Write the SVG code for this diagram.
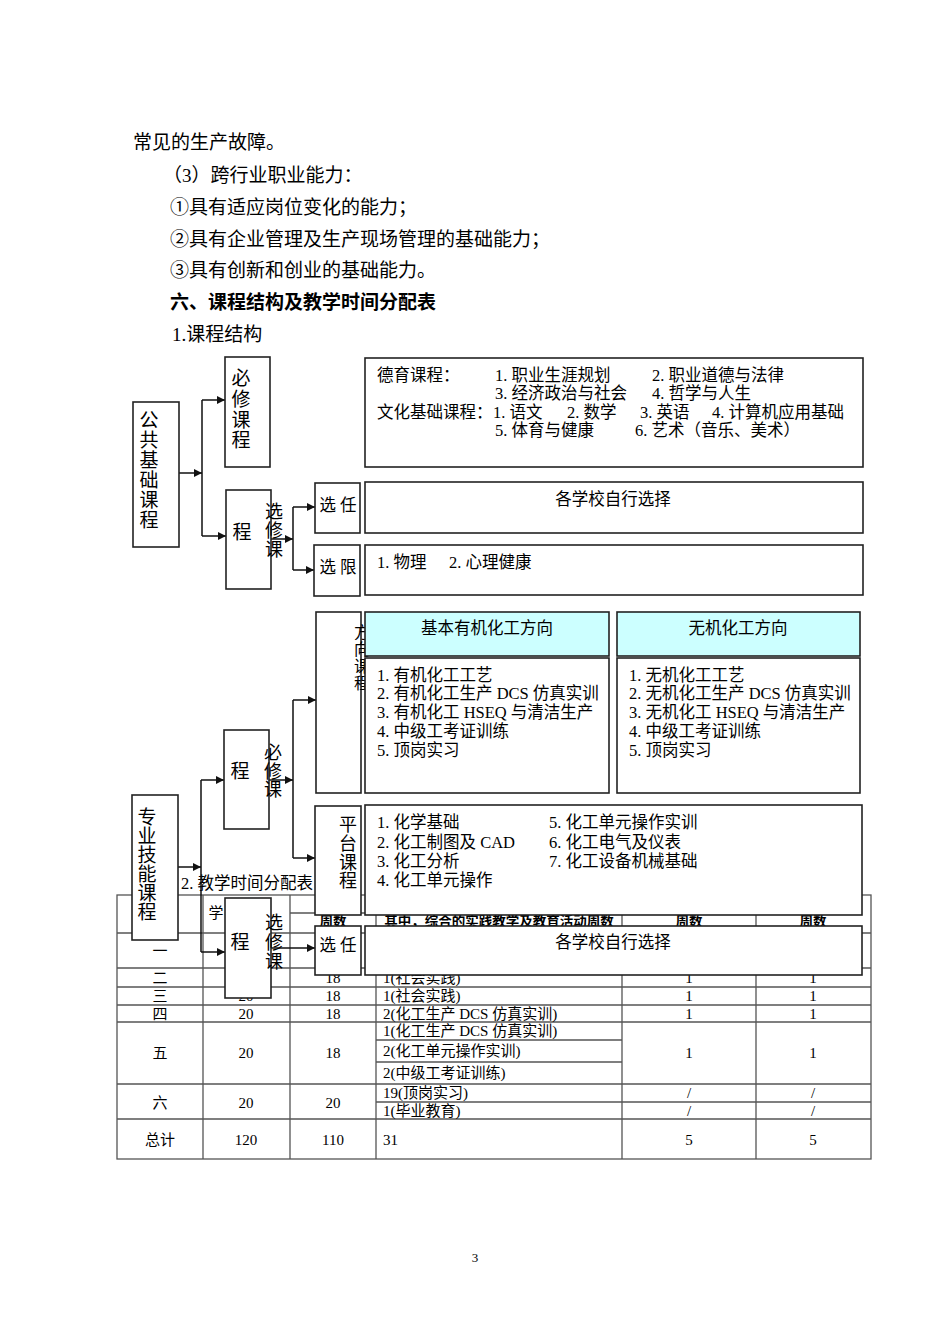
<svg xmlns="http://www.w3.org/2000/svg" width="950" height="1344" viewBox="0 0 950 1344">
<style>
text { font-family: "Liberation Serif", "Noto Sans CJK SC", serif; fill:#000; dominant-baseline: central; }
.p { font-size:19px; }
.h { font-size:19px; font-weight:bold; }
.d { font-size:16.5px; }
.dc { font-size:16.5px; text-anchor:middle; }
.v { font-size:19px; text-anchor:middle; }
.vs { font-size:18px; text-anchor:middle; }
.vx { font-size:16px; text-anchor:middle; }
.tb { font-size:15px; }
.tc { font-size:15px; text-anchor:middle; }
.th { font-size:13.5px; font-weight:bold; text-anchor:middle; }
.pg { font-size:13px; text-anchor:middle; }
.box { fill:#fff; stroke:#222; stroke-width:1.6; }
.cyan { fill:#ccffff; stroke:#222; stroke-width:1.6; }
.conn { fill:none; stroke:#111; stroke-width:1.5; }
.grid { fill:none; stroke:#555; stroke-width:1.3; }
</style>
<defs>
<marker id="arr" viewBox="0 0 10 10" refX="10" refY="5" markerWidth="9" markerHeight="8" markerUnits="userSpaceOnUse" orient="auto">
<path d="M0,0 L10,5 L0,10 z" fill="#111"/>
</marker>
</defs>
<rect width="950" height="1344" fill="#fff"/>

<g id="page-text">
<text class="p" x="133" y="142">常见的生产故障。</text>
<text class="p" x="163" y="175">（3）跨行业职业能力：</text>
<text class="p" x="170" y="207">①具有适应岗位变化的能力；</text>
<text class="p" x="170" y="239">②具有企业管理及生产现场管理的基础能力；</text>
<text class="p" x="170" y="270">③具有创新和创业的基础能力。</text>
<text class="h" x="170" y="302">六、课程结构及教学时间分配表</text>
<text class="p" x="172" y="334">1.课程结构</text>
<text class="d" x="181" y="883">2. 教学时间分配表</text>
<text class="pg" x="475" y="1257">3</text>
</g>

<g id="table">
<rect class="grid" x="117" y="895" width="754" height="264"/>
<path class="grid" d="M203,895V1159 M290,895V1159 M376,895V1159 M622,895V1159 M756,895V1159"/>
<path class="grid" d="M290,913H756 M117,933H871 M117,968H871 M117,987H871 M117,1005H871 M117,1022H871 M376,1040H622 M376,1062H622 M117,1084H871 M376,1102H871 M117,1119H871"/>
<text class="tc" x="216" y="913">学</text>
<text class="th" x="333" y="921">周数</text>
<text class="th" x="499" y="921">其中，综合的实践教学及教育活动周数</text>
<text class="th" x="689" y="921">周数</text>
<text class="th" x="813" y="921">周数</text>
<text class="tc" x="160" y="951">一</text>
<text class="tc" x="160" y="978">二</text>
<text class="tc" x="333" y="978">18</text>
<text class="tb" x="383" y="978">1(社会实践)</text>
<text class="tc" x="689" y="978">1</text>
<text class="tc" x="813" y="978">1</text>
<text class="tc" x="160" y="996">三</text>
<text class="tc" x="246" y="996">20</text>
<text class="tc" x="333" y="996">18</text>
<text class="tb" x="383" y="996">1(社会实践)</text>
<text class="tc" x="689" y="996">1</text>
<text class="tc" x="813" y="996">1</text>
<text class="tc" x="160" y="1014">四</text>
<text class="tc" x="246" y="1014">20</text>
<text class="tc" x="333" y="1014">18</text>
<text class="tb" x="383" y="1014">2(化工生产 DCS 仿真实训)</text>
<text class="tc" x="689" y="1014">1</text>
<text class="tc" x="813" y="1014">1</text>
<text class="tc" x="160" y="1053">五</text>
<text class="tc" x="246" y="1053">20</text>
<text class="tc" x="333" y="1053">18</text>
<text class="tb" x="383" y="1031">1(化工生产 DCS 仿真实训)</text>
<text class="tb" x="383" y="1051">2(化工单元操作实训)</text>
<text class="tb" x="383" y="1073">2(中级工考证训练)</text>
<text class="tc" x="689" y="1053">1</text>
<text class="tc" x="813" y="1053">1</text>
<text class="tc" x="160" y="1103">六</text>
<text class="tc" x="246" y="1103">20</text>
<text class="tc" x="333" y="1103">20</text>
<text class="tb" x="383" y="1093">19(顶岗实习)</text>
<text class="tb" x="383" y="1111">1(毕业教育)</text>
<text class="tc" x="689" y="1093">/</text>
<text class="tc" x="813" y="1093">/</text>
<text class="tc" x="689" y="1111">/</text>
<text class="tc" x="813" y="1111">/</text>
<text class="tc" x="160" y="1140">总计</text>
<text class="tc" x="246" y="1140">120</text>
<text class="tc" x="333" y="1140">110</text>
<text class="tb" x="383" y="1140">31</text>
<text class="tc" x="689" y="1140">5</text>
<text class="tc" x="813" y="1140">5</text>
</g>

<g id="connectors">
<path class="conn" d="M202,400V536 M293,507V570 M201,780V952 M293,700V858"/>
<path class="conn" marker-end="url(#arr)" d="M179,473H202"/>
<path class="conn" marker-end="url(#arr)" d="M202,400H225"/>
<path class="conn" marker-end="url(#arr)" d="M202,536H226"/>
<path class="conn" marker-end="url(#arr)" d="M271,539H293"/>
<path class="conn" marker-end="url(#arr)" d="M293,507H315"/>
<path class="conn" marker-end="url(#arr)" d="M293,570H314"/>
<path class="conn" marker-end="url(#arr)" d="M177,867H201"/>
<path class="conn" marker-end="url(#arr)" d="M201,780H224"/>
<path class="conn" marker-end="url(#arr)" d="M201,952H225"/>
<path class="conn" marker-end="url(#arr)" d="M269,780H293"/>
<path class="conn" marker-end="url(#arr)" d="M293,700H316"/>
<path class="conn" marker-end="url(#arr)" d="M293,858H315"/>
<path class="conn" marker-end="url(#arr)" d="M271,948H315"/>
</g>

<g id="gonggong">
<rect class="box" x="133" y="402" width="46" height="145"/>
<text class="v"><tspan x="149" y="420">公</tspan><tspan x="149" y="440">共</tspan><tspan x="149" y="460">基</tspan><tspan x="149" y="480">础</tspan><tspan x="149" y="500">课</tspan><tspan x="149" y="520">程</tspan></text>
</g>
<g id="gg-bixiu">
<rect class="box" x="225" y="357" width="45" height="110"/>
<text class="v"><tspan x="241" y="378">必</tspan><tspan x="241" y="399">修</tspan><tspan x="241" y="420">课</tspan><tspan x="241" y="440">程</tspan></text>
</g>
<g id="gg-bixiu-content">
<rect class="box" x="365" y="358" width="498" height="109"/>
<text class="d" x="377" y="375">德育课程：</text>
<text class="d" x="495" y="375">1. 职业生涯规划</text>
<text class="d" x="652" y="375">2. 职业道德与法律</text>
<text class="d" x="495" y="393">3. 经济政治与社会</text>
<text class="d" x="652" y="393">4. 哲学与人生</text>
<text class="d" x="377" y="412">文化基础课程：</text>
<text class="d" x="493" y="412">1. 语文</text>
<text class="d" x="567" y="412">2. 数学</text>
<text class="d" x="640" y="412">3. 英语</text>
<text class="d" x="712" y="412">4. 计算机应用基础</text>
<text class="d" x="495" y="430">5. 体育与健康</text>
<text class="d" x="635" y="430">6. 艺术（音乐、美术）</text>
</g>
<g id="gg-xuanxiu">
<rect class="box" x="226" y="490" width="45" height="99"/>
<text class="v" x="242" y="532">程</text>
<text class="vs"><tspan x="274" y="512">选</tspan><tspan x="274" y="531">修</tspan><tspan x="274" y="550">课</tspan></text>
</g>
<g id="gg-xuanren">
<rect class="box" x="315" y="483" width="45" height="50"/>
<text class="dc" x="338" y="505">选 任</text>
</g>
<g id="gg-xuanren-content">
<rect class="box" x="365" y="482" width="498" height="51"/>
<text class="dc" x="613" y="499">各学校自行选择</text>
</g>
<g id="gg-xuanxian">
<rect class="box" x="314" y="545" width="46" height="51"/>
<text class="dc" x="338" y="567">选 限</text>
</g>
<g id="gg-xuanxian-content">
<rect class="box" x="365" y="545" width="498" height="50"/>
<text class="d" x="377" y="562">1. 物理</text>
<text class="d" x="449" y="562">2. 心理健康</text>
</g>

<g id="zhuanye">
<rect class="box" x="132" y="795" width="46" height="145"/>
<text class="v"><tspan x="147" y="817">专</tspan><tspan x="147" y="836">业</tspan><tspan x="147" y="855">技</tspan><tspan x="147" y="874">能</tspan><tspan x="147" y="893">课</tspan><tspan x="147" y="912">程</tspan></text>
</g>
<g id="zy-bixiu">
<rect class="box" x="224" y="730" width="45" height="99"/>
<text class="v" x="240" y="771">程</text>
<text class="vs"><tspan x="273" y="753">必</tspan><tspan x="273" y="772">修</tspan><tspan x="273" y="790">课</tspan></text>
</g>
<g id="zy-fangxiang">
<rect class="box" x="316" y="612" width="45" height="181"/>
<text class="vx"><tspan x="362" y="632">方</tspan><tspan x="362" y="649">向</tspan><tspan x="362" y="666">课</tspan><tspan x="362" y="683">程</tspan></text>
</g>
<g id="zy-youji">
<rect class="cyan" x="365" y="612" width="244" height="44"/>
<text class="dc" x="487" y="628">基本有机化工方向</text>
<rect class="box" x="365" y="658" width="244" height="135"/>
<text class="d" x="377" y="675">1. 有机化工工艺</text>
<text class="d" x="377" y="693">2. 有机化工生产 DCS 仿真实训</text>
<text class="d" x="377" y="712">3. 有机化工 HSEQ 与清洁生产</text>
<text class="d" x="377" y="731">4. 中级工考证训练</text>
<text class="d" x="377" y="750">5. 顶岗实习</text>
</g>
<g id="zy-wuji">
<rect class="cyan" x="617" y="612" width="243" height="44"/>
<text class="dc" x="738" y="628">无机化工方向</text>
<rect class="box" x="617" y="658" width="243" height="135"/>
<text class="d" x="629" y="675">1. 无机化工工艺</text>
<text class="d" x="629" y="693">2. 无机化工生产 DCS 仿真实训</text>
<text class="d" x="629" y="712">3. 无机化工 HSEQ 与清洁生产</text>
<text class="d" x="629" y="731">4. 中级工考证训练</text>
<text class="d" x="629" y="750">5. 顶岗实习</text>
</g>
<g id="zy-pingtai">
<rect class="box" x="315" y="806" width="46" height="109"/>
<text class="vs"><tspan x="348" y="825">平</tspan><tspan x="348" y="844">台</tspan><tspan x="348" y="863">课</tspan><tspan x="348" y="881">程</tspan></text>
</g>
<g id="zy-pingtai-content">
<rect class="box" x="365" y="805" width="497" height="110"/>
<text class="d" x="377" y="822">1. 化学基础</text>
<text class="d" x="377" y="842">2. 化工制图及 CAD</text>
<text class="d" x="377" y="861">3. 化工分析</text>
<text class="d" x="377" y="880">4. 化工单元操作</text>
<text class="d" x="549" y="822">5. 化工单元操作实训</text>
<text class="d" x="549" y="842">6. 化工电气及仪表</text>
<text class="d" x="549" y="861">7. 化工设备机械基础</text>
</g>
<g id="zy-xuanxiu">
<rect class="box" x="225" y="898" width="46" height="100"/>
<text class="v" x="240" y="942">程</text>
<text class="vs"><tspan x="274" y="923">选</tspan><tspan x="274" y="943">修</tspan><tspan x="274" y="962">课</tspan></text>
</g>
<g id="zy-xuanren">
<rect class="box" x="315" y="926" width="46" height="49"/>
<text class="dc" x="338" y="945">选 任</text>
</g>
<g id="zy-xuanren-content">
<rect class="box" x="365" y="926" width="497" height="49"/>
<text class="dc" x="613" y="942">各学校自行选择</text>
</g>
</svg>
